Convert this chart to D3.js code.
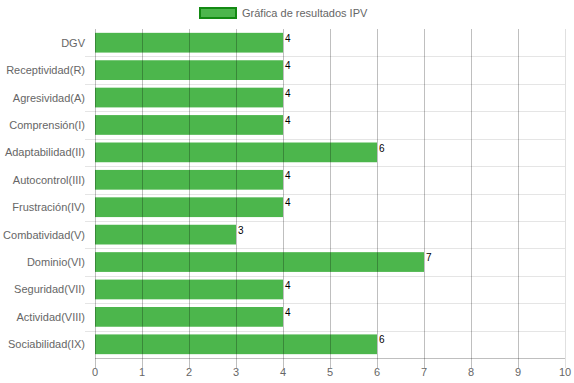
<!DOCTYPE html>
<html lang="es">
<head>
<meta charset="utf-8">
<title>IPV</title>
<script src="https://cdn.jsdelivr.net/npm/d3@7"></script>
<style>
body{margin:0;background:#fff;}
text{font-family:"Liberation Sans",Arial,Helvetica,sans-serif;}
</style>
</head>
<body>
<script>
var categories = ["DGV","Receptividad(R)","Agresividad(A)","Comprensión(I)","Adaptabilidad(II)","Autocontrol(III)","Frustración(IV)","Combatividad(V)","Dominio(VI)","Seguridad(VII)","Actividad(VIII)","Sociabilidad(IX)"];
var values = [4,4,4,4,6,4,4,3,7,4,4,6];
var xTicks = [0,1,2,3,4,5,6,7,8,9,10];
var legendLabel = "Gráfica de resultados IPV";

var w = 574, h = 383;
var pLeft = 95, pRight = 565, pTop = 29, pBottom = 358;

var svg = d3.select("body").append("svg")
  .attr("width", w)
  .attr("height", h);

var x = d3.scaleLinear().domain([0,10]).range([pLeft,pRight]);
var y = d3.scaleBand().domain(categories).range([pTop,pBottom]);
var barH = y.bandwidth() * 0.72;

// horizontal grid (category boundaries) + ticks on the left
svg.append("g").selectAll("line")
  .data(categories.slice(1))
  .enter().append("line")
  .attr("x1", pLeft - 10).attr("x2", pRight)
  .attr("y1", function(d){ return Math.round(y(d)) + 0.5; })
  .attr("y2", function(d){ return Math.round(y(d)) + 0.5; })
  .attr("stroke", "rgba(0,0,0,0.1)");

svg.append("g").selectAll("rect")
  .data(values)
  .enter().append("rect")
  .attr("x", x(0))
  .attr("y", function(d,i){ return y(categories[i]) + (y.bandwidth() - barH)/2; })
  .attr("width", function(d){ return x(d) - x(0); })
  .attr("height", barH)
  .attr("fill", "#4cb64c");

// vertical grid over the bars
svg.append("g").selectAll("line")
  .data(xTicks)
  .enter().append("line")
  .attr("x1", function(d){ return Math.round(x(d)) + 0.5; })
  .attr("x2", function(d){ return Math.round(x(d)) + 0.5; })
  .attr("y1", pTop).attr("y2", pBottom + 10)
  .attr("stroke", function(d){ return d == 10 ? "rgba(0,0,0,0.12)" : "rgba(0,0,0,0.25)"; });

// bottom axis line
svg.append("line")
  .attr("x1", pLeft).attr("x2", pRight)
  .attr("y1", pBottom + 0.5).attr("y2", pBottom + 0.5)
  .attr("stroke", "rgba(0,0,0,0.25)");

// x labels
svg.append("g").selectAll("text")
  .data(xTicks)
  .enter().append("text")
  .attr("x", function(d){ return x(d); })
  .attr("y", 376)
  .attr("text-anchor", "middle")
  .attr("font-size", 11)
  .attr("fill", "#666")
  .text(function(d){ return d; });

// y labels
svg.append("g").selectAll("text")
  .data(categories)
  .enter().append("text")
  .attr("x", 85)
  .attr("y", function(d){ return y(d) + y.bandwidth()/2 + 4; })
  .attr("text-anchor", "end")
  .attr("font-size", 11)
  .attr("fill", "#666")
  .text(function(d){ return d; });

// value labels
svg.append("g").selectAll("text")
  .data(values)
  .enter().append("text")
  .attr("x", function(d){ return x(d) + 2; })
  .attr("y", function(d,i){ return y(categories[i]) + (y.bandwidth() - barH)/2 + 9; })
  .attr("font-size", 10)
  .attr("fill", "#000")
  .text(function(d){ return d; });

// legend
svg.append("rect")
  .attr("x", 200).attr("y", 8)
  .attr("width", 36).attr("height", 10)
  .attr("fill", "#4cb64c")
  .attr("stroke", "#138a13")
  .attr("stroke-width", 2);
svg.append("text")
  .attr("x", 242).attr("y", 17)
  .attr("font-size", 11)
  .attr("fill", "#666")
  .text(legendLabel);
</script>
</body>
</html>
